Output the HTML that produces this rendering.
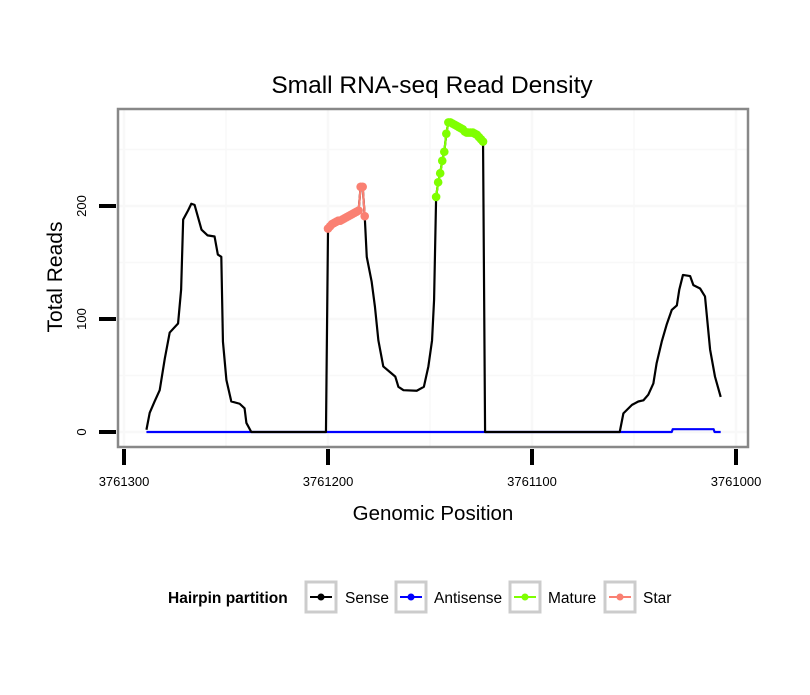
<!DOCTYPE html>
<html><head><meta charset="utf-8"><style>
body{margin:0;background:#fff;font-family:"Liberation Sans",sans-serif}
</style></head><body>
<svg width="810" height="690" xmlns="http://www.w3.org/2000/svg" font-family="Liberation Sans, sans-serif">
<rect width="810" height="690" fill="#fff"/>
<text x="432" y="93" text-anchor="middle" font-size="24.5">Small RNA-seq Read Density</text>
<g id="grid"></g>
<g id="marks"></g>
<rect x="118" y="109" width="630" height="338" fill="none" stroke="#888" stroke-width="2.5"/>
<g id="axes"></g>
<text x="433" y="520" text-anchor="middle" font-size="20.5">Genomic Position</text>
<text transform="translate(62,277) rotate(-90)" text-anchor="middle" font-size="21">Total Reads</text>
<g font-size="15.5">
<text x="168" y="603" font-weight="bold">Hairpin partition</text>
<g><rect x="306" y="582" width="30" height="30" fill="#fff" stroke="#ccc" stroke-width="3"/><line x1="310" y1="597" x2="332" y2="597" stroke="#000" stroke-width="2"/><circle cx="321" cy="597" r="3.5" fill="#000"/><text x="345" y="603">Sense</text></g>
<g><rect x="396" y="582" width="30" height="30" fill="#fff" stroke="#ccc" stroke-width="3"/><line x1="400" y1="597" x2="422" y2="597" stroke="#00f" stroke-width="2"/><circle cx="411" cy="597" r="3.5" fill="#00f"/><text x="434" y="603">Antisense</text></g>
<g><rect x="510" y="582" width="30" height="30" fill="#fff" stroke="#ccc" stroke-width="3"/><line x1="514" y1="597" x2="536" y2="597" stroke="#7fff00" stroke-width="2"/><circle cx="525" cy="597" r="3.5" fill="#7fff00"/><text x="548" y="603">Mature</text></g>
<g><rect x="605" y="582" width="30" height="30" fill="#fff" stroke="#ccc" stroke-width="3"/><line x1="609" y1="597" x2="631" y2="597" stroke="#fa8072" stroke-width="2"/><circle cx="620" cy="597" r="3.5" fill="#fa8072"/><text x="643" y="603">Star</text></g>
</g>
</svg>
<script>
const senseX=[3761289,3761287.4,3761285,3761282.5,3761280,3761277.6,3761273.5,3761272,3761271,3761268.6,3761267,3761265.4,3761262,3761259,3761255.6,3761254,3761252.3,3761251.5,3761249.8,3761247.4,3761243.3,3761240.9,3761240,3761237.6,3761201,3761200,3761195,3761190,3761185,3761184,3761183,3761182,3761181,3761178.6,3761177,3761175.3,3761172.9,3761169.6,3761167,3761165.5,3761163,3761156.5,3761153,3761150.8,3761149,3761148,3761147,3761146,3761145,3761144,3761143,3761142,3761141,3761138,3761135,3761132,3761129,3761126,3761124,3761123,3761057,3761055.2,3761051,3761047.9,3761045.4,3761043,3761040.5,3761038.9,3761036.4,3761034,3761031.5,3761029,3761027.8,3761026,3761022.5,3761020.9,3761017.6,3761015.2,3761012.7,3761010.3,3761007.5];
const senseY=[2,17,27,37,65,88,96,126,188,196,202,201,179,174,173,157,155,80,46,27,25,21,8,0,0,178,187,191,196,217,217,191,155,133,111,81,58,53,49,40,37,36.5,40,58,81,117,208,221,229,240,248,264,274,272,269,265,265,261,257,0,0,16.5,24,27,28,33,43,61,80,95,108,112,126,139,138,130,127,120,73,49,31];
const antiX=[3761289,3761031.5,3761031,3761011,3761010.5,3761007.5];
const antiY=[0,0,2.5,2.5,0,0];
const starX=[3761200,3761199,3761198,3761197,3761196,3761195,3761194,3761193,3761192,3761191,3761190,3761189,3761188,3761187,3761186,3761185,3761184,3761183,3761182];
const starY=[180,182,184,185,186,187,187,188,189,190,191,192,193,194,195,196,217,217,191];
const matureX=[3761147,3761146,3761145,3761144,3761143,3761142,3761141,3761140,3761139,3761138,3761137,3761136,3761135,3761134,3761133,3761132,3761131,3761130,3761129,3761128,3761127,3761126,3761125,3761124];
const matureY=[208,221,229,240,248,264,274,274,273,272,271,270,269,268,266,265,265,265,265,264,263,261,259,257];
const xTicks=[3761300,3761200,3761100,3761000];
const xMinor=[3761250,3761150,3761050];
const yTicks=[0,100,200];
const yMinor=[50,150,250];
const NS='http://www.w3.org/2000/svg';
const sx=v=>124+(3761300-v)*2.04;
const sy=v=>432-v*1.13;
function mk(t,a,p){const e=document.createElementNS(NS,t);for(const k in a)e.setAttribute(k,a[k]);p.appendChild(e);return e;}
const grid=document.getElementById('grid'),marks=document.getElementById('marks'),axes=document.getElementById('axes');
xTicks.concat(xMinor).forEach(v=>{const g=mk('line',{x1:sx(v),x2:sx(v),y1:109,y2:447,stroke:'#f8f8f8','stroke-width':xMinor.includes(v)?1.5:2.5},grid);

});
yTicks.concat(yMinor).forEach(v=>{const g=mk('line',{x1:118,x2:748,y1:sy(v),y2:sy(v),stroke:'#f8f8f8','stroke-width':yMinor.includes(v)?1.5:2.5},grid);

});
function line(xs,ys,c,name){const p=mk('polyline',{points:xs.map((x,i)=>sx(x)+','+sy(ys[i])).join(' '),fill:'none',stroke:c,'stroke-width':2.2,'stroke-linejoin':'round'},marks);

}
function pts(xs,ys,c,name){xs.forEach((x,i)=>{const d=mk('circle',{cx:sx(x),cy:sy(ys[i]),r:4.3,fill:c},marks);

});}
line(antiX,antiY,'#0000ff','antisense-line');
line(senseX,senseY,'#000','sense-line');
line(starX,starY,'#fa8072','star-line');
line(matureX,matureY,'#7fff00','mature-line');
pts(starX,starY,'#fa8072','star-point');
pts(matureX,matureY,'#7fff00','mature-point');
xTicks.forEach(v=>{const t=mk('line',{x1:sx(v),x2:sx(v),y1:449,y2:465,stroke:'#000','stroke-width':4},axes);


const l=mk('text',{x:sx(v),y:486,'text-anchor':'middle','font-size':13},axes);l.textContent=v;

});
yTicks.forEach(v=>{const t=mk('line',{x1:99,x2:116,y1:sy(v),y2:sy(v),stroke:'#000','stroke-width':4},axes);


const l=mk('text',{transform:`translate(86,${sy(v)}) rotate(-90)`,'text-anchor':'middle','font-size':13},axes);l.textContent=v;

});
</script>
</body></html>
